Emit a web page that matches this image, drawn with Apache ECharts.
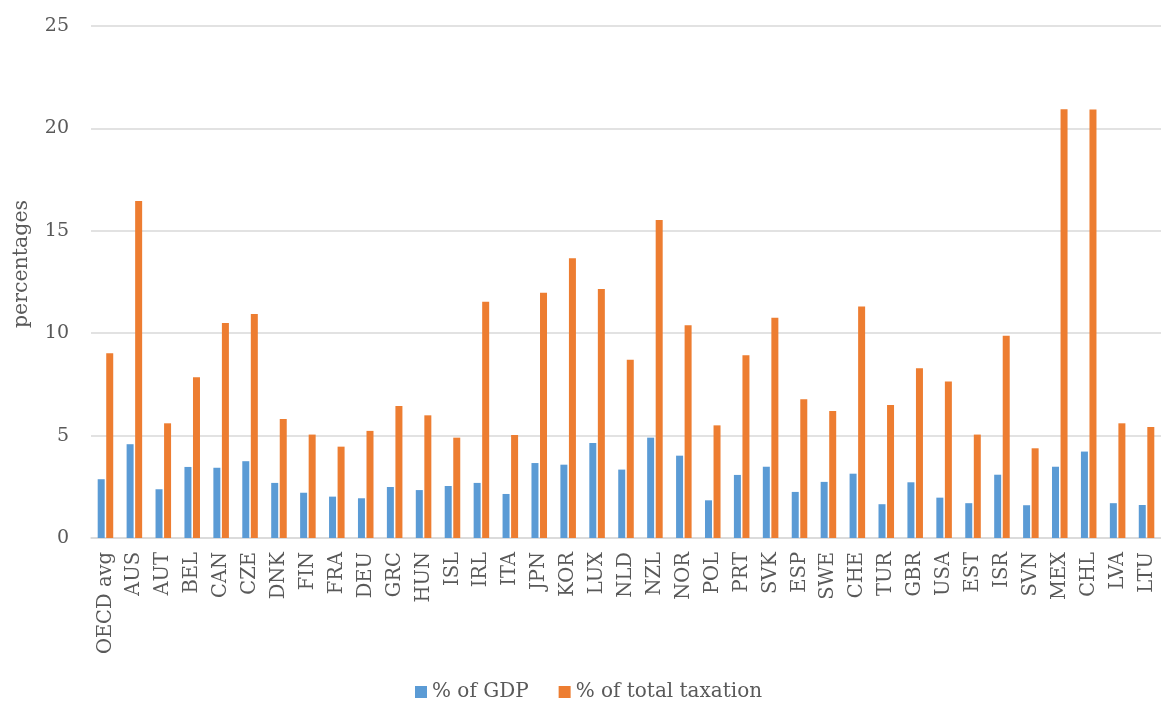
<!DOCTYPE html>
<html>
<head>
<meta charset="utf-8">
<script src="https://cdn.jsdelivr.net/npm/echarts@6/dist/echarts.min.js"></script>
<style>html,body{margin:0;padding:0;background:#fff}#c{width:1161px;height:702px}</style>
</head>
<body>
<div id="c"></div>
<script>
const categories = ['OECD avg','AUS','AUT','BEL','CAN','CZE','DNK','FIN','FRA','DEU','GRC','HUN','ISL','IRL','ITA','JPN','KOR','LUX','NLD','NZL','NOR','POL','PRT','SVK','ESP','SWE','CHE','TUR','GBR','USA','EST','ISR','SVN','MEX','CHL','LVA','LTU'];
const pctGDP = [2.87,4.58,2.38,3.47,3.43,3.75,2.69,2.21,2.02,1.94,2.49,2.34,2.54,2.69,2.15,3.66,3.58,4.64,3.34,4.90,4.02,1.84,3.08,3.48,2.25,2.74,3.14,1.65,2.72,1.97,1.70,3.09,1.60,3.48,4.22,1.70,1.61];
const pctTax = [9.02,16.46,5.60,7.85,10.50,10.94,5.81,5.05,4.46,5.23,6.45,5.99,4.90,11.53,5.03,11.97,13.66,12.16,8.70,15.53,10.39,5.50,8.92,10.76,6.78,6.20,11.30,6.50,8.29,7.64,5.05,9.87,4.38,20.94,20.92,5.60,5.42];
const yTicks = [0,5,10,15,20,25];
const seriesNames = ['% of GDP','% of total taxation'];
const yTitle = 'percentages';

const FONT = 'DejaVu Serif';
const chart = echarts.init(document.getElementById('c'), null, {renderer:'canvas'});
chart.setOption({
  animation:false,
  color:['#5B9BD5','#ED7D31'],
  grid:{left:91, top:26, width:1075, bottom:164, containLabel:false},
  xAxis:{
    type:'category', data:categories,
    axisLine:{show:true, lineStyle:{color:'#D9D9D9', width:1.5}},
    axisTick:{show:false},
    axisLabel:{rotate:90, interval:0, margin:14, color:'#595959', fontFamily:FONT, fontSize:19.5}
  },
  yAxis:{
    type:'value', min:yTicks[0], max:yTicks[yTicks.length-1], interval:5,
    axisLine:{show:false}, axisTick:{show:false},
    axisLabel:{margin:22, color:'#595959', fontFamily:FONT, fontSize:19}
    ,splitLine:{lineStyle:{color:'#D9D9D9', width:1.5}}
  },
  legend:{
    bottom:-5, left:410, icon:'rect', itemWidth:12, itemHeight:12, itemGap:30,
    textStyle:{color:'#595959', fontFamily:FONT, fontSize:20}
  },
  graphic:[{
    type:'text', x:22, y:264, rotation:Math.PI/2,
    style:{text:yTitle, fill:'#595959', font:'20.5px "DejaVu Serif"', textAlign:'center', textVerticalAlign:'middle'}
  }],
  series:[
    {name:seriesNames[0], type:'bar', data:pctGDP, barWidth:7, barGap:'22%'},
    {name:seriesNames[1], type:'bar', data:pctTax, barWidth:7, barGap:'22%'}
  ]
});
</script>
</body>
</html>
